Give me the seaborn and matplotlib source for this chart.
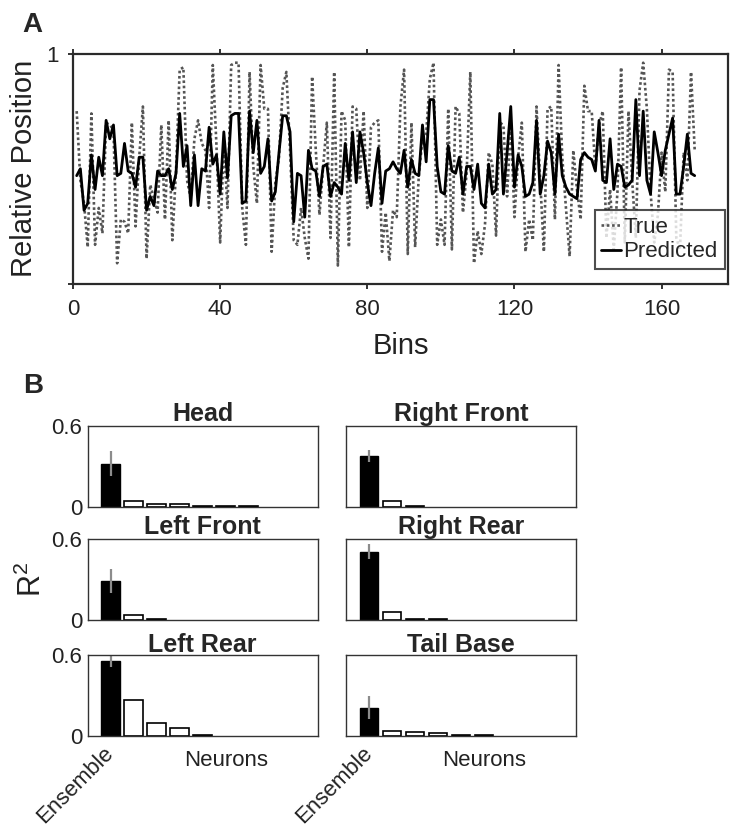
import numpy as np
import pandas as pd
import matplotlib
matplotlib.use('Agg')
import matplotlib.pyplot as plt
import seaborn as sns

# ---------------- data ----------------
bins = list(range(1, 170))

true_pos = [
    0.75, 0.45, 0.35, 0.16, 0.74, 0.17, 0.33, 0.22, 0.70, 0.69,
    0.67, 0.09, 0.28, 0.27, 0.22, 0.70, 0.25, 0.55, 0.77, 0.11,
    0.43, 0.37, 0.31, 0.69, 0.28, 0.71, 0.19, 0.49, 0.93, 0.94,
    0.45, 0.37, 0.63, 0.71, 0.61, 0.58, 0.33, 0.95, 0.60, 0.18,
    0.61, 0.33, 0.95, 0.96,
    0.96, 0.33, 0.17, 0.92, 0.51, 0.35, 0.95, 0.76, 0.76, 0.14,
    0.44, 0.55, 0.85, 0.92, 0.58, 0.19, 0.17, 0.33, 0.20, 0.11,
    0.90, 0.58, 0.30, 0.51, 0.70, 0.20, 0.92, 0.08, 0.75, 0.71,
    0.16, 0.77, 0.76, 0.45, 0.75, 0.33, 0.68, 0.70, 0.71, 0.14,
    0.31, 0.10, 0.32, 0.29, 0.77, 0.93, 0.13,
    0.70, 0.16, 0.47, 0.63, 0.65, 0.89, 0.96, 0.17, 0.28, 0.17,
    0.76, 0.15, 0.77, 0.74, 0.31, 0.48, 0.92, 0.09, 0.23, 0.13,
    0.26, 0.57, 0.52, 0.21, 0.70, 0.69, 0.38, 0.70, 0.29, 0.55,
    0.70, 0.14, 0.28, 0.19, 0.77, 0.45, 0.14, 0.76, 0.77, 0.28,
    0.95, 0.55, 0.33, 0.12, 0.58, 0.41,
    0.28, 0.86, 0.75, 0.75, 0.50, 0.69, 0.75, 0.20, 0.41, 0.15,
    0.40, 0.94, 0.18, 0.75, 0.45, 0.20, 0.84, 0.96, 0.76, 0.40,
    0.18, 0.30, 0.57, 0.40, 0.93, 0.92, 0.20, 0.15, 0.57, 0.45,
    0.92, 0.58,
]

predicted_pos = [
    0.47, 0.50, 0.32, 0.35, 0.56, 0.41, 0.55, 0.47, 0.71, 0.63,
    0.69, 0.47, 0.48, 0.61, 0.49, 0.48, 0.42, 0.55, 0.55, 0.32,
    0.38, 0.34, 0.49, 0.47, 0.47, 0.50, 0.41, 0.48, 0.74, 0.51,
    0.60, 0.34, 0.56, 0.34, 0.50, 0.49, 0.68, 0.52, 0.56, 0.39,
    0.66, 0.46, 0.73, 0.74, 0.74,
    0.35, 0.36, 0.75, 0.57, 0.71, 0.48, 0.51, 0.63, 0.36, 0.40,
    0.57, 0.73, 0.73, 0.66, 0.27, 0.48, 0.47, 0.29, 0.58, 0.50,
    0.49, 0.38, 0.51, 0.52, 0.38, 0.44, 0.42, 0.39, 0.61, 0.45,
    0.66, 0.44, 0.66, 0.57, 0.44, 0.34, 0.48, 0.59, 0.35, 0.49,
    0.50, 0.53, 0.50, 0.48, 0.58, 0.42,
    0.54, 0.48, 0.47, 0.69, 0.53, 0.80, 0.80, 0.51, 0.40, 0.39,
    0.60, 0.49, 0.48, 0.55, 0.39, 0.51, 0.51, 0.41, 0.52, 0.35,
    0.33, 0.52, 0.39, 0.41, 0.74, 0.39, 0.57, 0.77, 0.42, 0.56,
    0.51, 0.38, 0.39, 0.44, 0.71, 0.39, 0.47, 0.62, 0.57, 0.39,
    0.65, 0.47, 0.42, 0.39, 0.38, 0.37,
    0.54, 0.57, 0.55, 0.54, 0.49, 0.71, 0.45, 0.44, 0.63, 0.41,
    0.52, 0.51, 0.42, 0.43, 0.45, 0.80, 0.47, 0.75, 0.45, 0.39,
    0.66, 0.57, 0.47, 0.58, 0.65, 0.72, 0.39, 0.39, 0.51, 0.65,
    0.48, 0.47,
]

x_ticks_A = [0, 40, 80, 120, 160]

panel_titles = ['Head', 'Right Front', 'Left Front', 'Right Rear', 'Left Rear', 'Tail Base']
ensemble_r2 = [0.32, 0.375, 0.29, 0.507, 0.56, 0.21]
ensemble_err = [0.09, 0.045, 0.09, 0.056, 0.045, 0.087]
neuron_r2 = [
    [0.045, 0.02, 0.017, 0.005, 0.004, 0.003],
    [0.044, 0.005],
    [0.037, 0.005],
    [0.06, 0.01, 0.005],
    [0.27, 0.10, 0.06, 0.007],
    [0.038, 0.031, 0.02, 0.01, 0.008],
]
bar_tick_labels = ['Ensemble', 'Neurons']

# ---------------- style ----------------
sns.set_theme(style='white')
plt.rcParams['font.family'] = ['Liberation Sans', 'DejaVu Sans']
plt.rcParams['mathtext.fontset'] = 'custom'
plt.rcParams['mathtext.rm'] = 'Liberation Sans'
plt.rcParams['mathtext.it'] = 'Liberation Sans:italic'

fig = plt.figure(figsize=(7.3, 8.27), dpi=100)

# ---------------- panel A ----------------
axA = fig.add_axes([0.1, 0.6566, 0.897, 0.2787])
df = pd.DataFrame({'Bins': bins, 'True': true_pos, 'Predicted': predicted_pos})
sns.lineplot(data=df, x='Bins', y='True', ax=axA, color='#555555',
             linestyle=(0, (1, 1)), linewidth=1.9, label='True')
sns.lineplot(data=df, x='Bins', y='Predicted', ax=axA, color='black',
             linewidth=2.0, label='Predicted')
axA.set_xlim(0, 178)
axA.set_ylim(0, 1)
axA.set_xticks(x_ticks_A)
axA.set_xticklabels([str(t) for t in x_ticks_A])
axA.set_yticks([0, 1])
axA.set_yticklabels(['', '1'])
axA.tick_params(axis='both', which='both', direction='out', length=3.5, width=1.3,
                labelsize=16, pad=7, colors='#222222', labelcolor='#222222')
axA.tick_params(axis='x', top=True, bottom=True)
axA.tick_params(axis='y', left=True, right=False)
for s in axA.spines.values():
    s.set_linewidth(1.6)
    s.set_color('#2a2a2a')
axA.set_xlabel('Bins', fontsize=21, labelpad=9, color='#222222')
axA.set_ylabel('Relative Position', fontsize=21, labelpad=6, color='#222222')
leg = axA.legend(loc='lower right', bbox_to_anchor=(0.995, 0.065), borderaxespad=0,
                 fontsize=16, handlelength=0.9, handletextpad=0.1, borderpad=0.3,
                 labelspacing=0.15, fancybox=False, frameon=True)
leg.get_frame().set_edgecolor('#222222')
leg.get_frame().set_linewidth(1.5)
fig.text(22 / 730, 1 - 32 / 827, 'A', fontsize=20, fontweight='bold', ha='left', va='baseline')

# ---------------- panel B ----------------
fig.text(22.7 / 730, 1 - 393 / 827, 'B', fontsize=20, fontweight='bold', ha='left', va='baseline')

lefts = [0.1201, 0.474]
bottoms = [0.3873, 0.2503, 0.1100]
w, h = 0.315, 0.0978

for i, title in enumerate(panel_titles):
    r, c = divmod(i, 2)
    ax = fig.add_axes([lefts[c], bottoms[r], w, h])
    ens_df = pd.DataFrame({'pos': [1], 'r2': [ensemble_r2[i]]})
    neu = neuron_r2[i]
    neu_df = pd.DataFrame({'pos': list(range(2, 2 + len(neu))), 'r2': neu})
    sns.barplot(data=ens_df, x='pos', y='r2', native_scale=True, width=0.8,
                color='black', edgecolor='black', linewidth=1.0, errorbar=None,
                saturation=1, ax=ax)
    sns.barplot(data=neu_df, x='pos', y='r2', native_scale=True, width=0.8,
                color='white', edgecolor='black', linewidth=1.2, errorbar=None,
                saturation=1, ax=ax)
    ax.plot([1, 1], [ensemble_r2[i] - ensemble_err[i], ensemble_r2[i] + ensemble_err[i]],
            color='#8c8c8c', linewidth=1.6, solid_capstyle='butt')
    ax.set_xlim(0, 10)
    ax.set_ylim(0, 0.6)
    if c == 0:
        ax.set_yticks([0, 0.6])
        ax.set_yticklabels(['0', '0.6'])
        ax.tick_params(axis='y', length=0, pad=4, labelsize=16, labelcolor='#222222')
    else:
        ax.set_yticks([])
    ax.set_xlabel('')
    ax.set_ylabel('')
    if r == 2:
        ax.set_xticks([1, 6])
        ax.set_xticklabels(bar_tick_labels)
        ax.tick_params(axis='x', length=0, pad=10, labelsize=16, labelcolor='#222222')
        lab = ax.get_xticklabels()[0]
        lab.set_rotation(45)
        lab.set_ha('right')
        lab.set_va('center')
        lab.set_rotation_mode('anchor')
    else:
        ax.set_xticks([])
    if i == 2:
        ax.set_ylabel(r'$\mathrm{R}^2$', fontsize=22, labelpad=2, color='#222222')
    ax.set_title(title, fontsize=18, fontweight='bold', pad=2)
    for s in ax.spines.values():
        s.set_linewidth(1.0)
        s.set_color('#333333')
        s.set_visible(True)

fig.savefig('out.png', dpi=100)
